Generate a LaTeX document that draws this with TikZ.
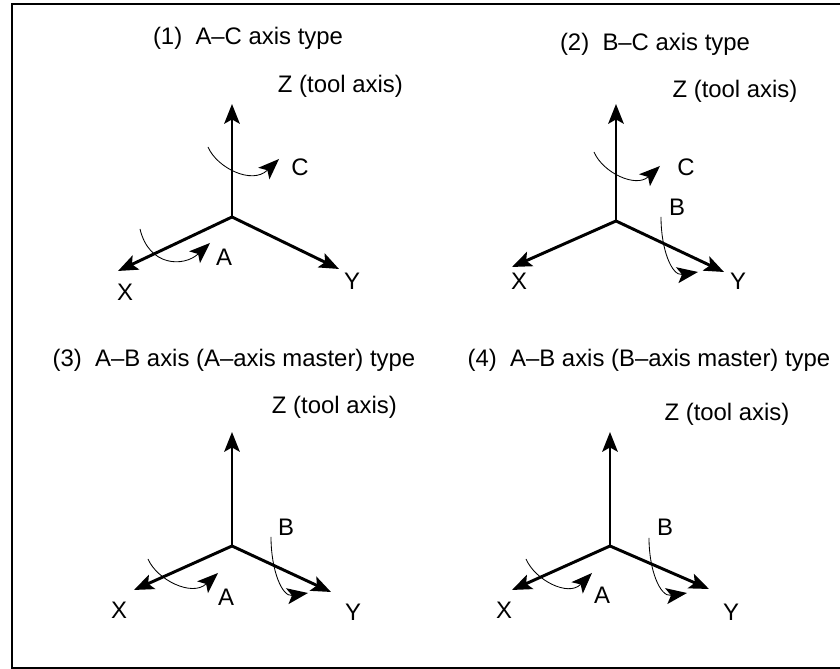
\documentclass[tikz,border=0pt]{standalone}
\usepackage{fontspec}
\setmainfont{Liberation Sans}
\usetikzlibrary{arrows.meta}
\tikzset{
  axisline/.style={line width=2.1pt,-{Stealth[length=14pt,width=11pt,inset=3pt]}},
  turnline/.style={line width=0.6pt,-{Stealth[length=15pt,width=11.5pt,inset=3.5pt,line width=0pt]}},
  lbl/.style={inner sep=0pt,font=\fontsize{17}{19}\selectfont},
}
\begin{document}
\begin{tikzpicture}
\useasboundingbox (0,0) rectangle (21,16.725);
\draw[line width=1.3pt] (21,0.03) -- (0.3,0.03) -- (0.3,16.63) -- (21,16.63);

% (1)
\node[lbl] (title1) at (6.2,15.775) {(1)\ \ A--C axis type};
\coordinate (O1) at (5.8,11.3);
\coordinate (Z1) at (5.8,14.125);
\coordinate (X1) at (2.95,9.95);
\coordinate (Y1) at (8.475,10);
\draw[axisline] (O1) -- (Z1);
\draw[axisline] (O1) -- (X1);
\draw[axisline] (O1) -- (Y1);
\node[lbl] (zlbl1) at (8.51,14.575) {Z (tool axis)};
\node[lbl] (xlbl1) at (3.125,9.425) {X};
\node[lbl] (ylbl1) at (8.8,9.7) {Y};
\node[lbl] (clbl1) at (7.5,12.55) {C};
\node[lbl] (albl1) at (5.6,10.3) {A};
\coordinate (Cs1) at (5.2,13.05);
\coordinate (Ce1) at (6.975,12.75);
\coordinate (As1) at (3.5,11);
\coordinate (Ae1) at (5.25,10.65);
\draw[turnline] (Cs1) .. controls (5.425,12.525) and (6.3,12.1) .. (Ce1);
\draw[turnline] (As1) .. controls (3.725,10.05) and (4.6,10.05) .. (Ae1);

% (2)
\node[lbl] (title2) at (16.375,15.625) {(2)\ \ B--C axis type};
\coordinate (O2) at (15.4,11.2);
\coordinate (Z2) at (15.4,14.125);
\coordinate (X2) at (12.8,10.05);
\coordinate (Y2) at (18.1,9.925);
\draw[axisline] (O2) -- (Z2);
\draw[axisline] (O2) -- (X2);
\draw[axisline] (O2) -- (Y2);
\node[lbl] (zlbl2) at (18.375,14.45) {Z (tool axis)};
\node[lbl] (xlbl2) at (12.975,9.7) {X};
\node[lbl] (ylbl2) at (18.45,9.7) {Y};
\node[lbl] (clbl2) at (17.15,12.55) {C};
\node[lbl] (blbl2) at (16.925,11.55) {B};
\coordinate (Cs2) at (14.85,12.925);
\coordinate (Ce2) at (16.5,12.575);
\coordinate (Bs2) at (16.525,11.3);
\coordinate (Be2) at (17.45,9.925);
\draw[turnline] (Cs2) .. controls (15.075,12.4) and (15.9,12.025) .. (Ce2);
\draw[turnline] (Bs2) .. controls (16.525,10.475) and (16.8,9.825) .. (Be2);

% (3)
\node[lbl] (title3) at (5.85,7.725) {(3)\ \ A--B axis (A--axis master) type};
\coordinate (O3) at (5.8,3.075);
\coordinate (Z3) at (5.8,5.925);
\coordinate (X3) at (3.35,1.975);
\coordinate (Y3) at (8.275,1.925);
\draw[axisline] (O3) -- (Z3);
\draw[axisline] (O3) -- (X3);
\draw[axisline] (O3) -- (Y3);
\node[lbl] (zlbl3) at (8.36,6.55) {Z (tool axis)};
\node[lbl] (xlbl3) at (2.975,1.475) {X};
\node[lbl] (ylbl3) at (8.825,1.425) {Y};
\node[lbl] (albl3) at (5.65,1.8) {A};
\node[lbl] (blbl3) at (7.15,3.55) {B};
\coordinate (As3) at (3.7,2.75);
\coordinate (Ae3) at (5.45,2.4);
\coordinate (Bs3) at (6.775,3.3);
\coordinate (Be3) at (7.7,1.9);
\draw[turnline] (As3) .. controls (3.925,2.225) and (4.8,1.8) .. (Ae3);
\draw[turnline] (Bs3) .. controls (6.775,2.475) and (7.05,1.8) .. (Be3);

% (4)
\node[lbl] (title4) at (16.225,7.725) {(4)\ \ A--B axis (B--axis master) type};
\coordinate (O4) at (15.25,3.075);
\coordinate (Z4) at (15.25,5.925);
\coordinate (X4) at (12.8,1.975);
\coordinate (Y4) at (17.725,2);
\draw[axisline] (O4) -- (Z4);
\draw[axisline] (O4) -- (X4);
\draw[axisline] (O4) -- (Y4);
\node[lbl] (zlbl4) at (18.175,6.375) {Z (tool axis)};
\node[lbl] (xlbl4) at (12.6,1.475) {X};
\node[lbl] (ylbl4) at (18.275,1.425) {Y};
\node[lbl] (albl4) at (15.05,1.85) {A};
\node[lbl] (blbl4) at (16.625,3.55) {B};
\coordinate (As4) at (13.15,2.75);
\coordinate (Ae4) at (14.8,2.4);
\coordinate (Bs4) at (16.225,3.275);
\coordinate (Be4) at (17.175,1.9);
\draw[turnline] (As4) .. controls (13.375,2.225) and (14.2,1.8) .. (Ae4);
\draw[turnline] (Bs4) .. controls (16.225,2.475) and (16.5,1.8) .. (Be4);
\end{tikzpicture}
\end{document}
